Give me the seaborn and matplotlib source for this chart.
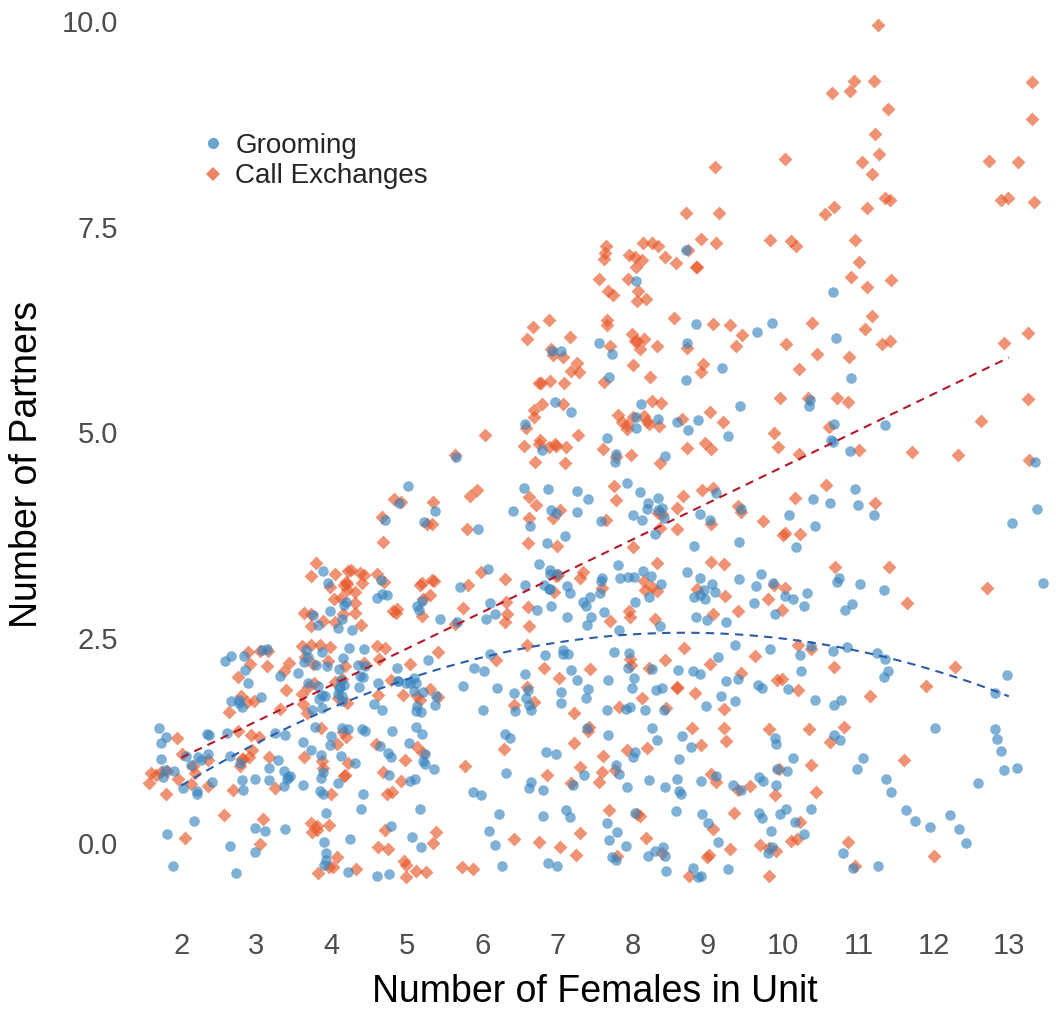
import numpy as np
import pandas as pd
import matplotlib
matplotlib.use("Agg")
import matplotlib.pyplot as plt
from matplotlib.lines import Line2D
import seaborn as sns

# ---- data: number of points per (females in unit, number of partners) ----
# index in each list = number of partners (0, 1, 2, ...)
females = [2, 3, 4, 5, 6, 7, 8, 9, 10, 11, 12, 13]
grooming_counts = [
    [3, 18],
    [6, 16, 13],
    [8, 19, 30, 10],
    [6, 14, 18, 8, 5],
    [4, 5, 8, 6, 2, 1],
    [5, 8, 15, 18, 10, 4, 2],
    [12, 10, 14, 15, 12, 8, 3, 1],
    [8, 10, 10, 12, 6, 5, 4, 1],
    [10, 8, 8, 9, 4, 2, 2],
    [3, 6, 8, 6, 4, 5, 2, 1],
    [6, 1],
    [0, 6, 2, 1, 2, 1],
]
call_counts = [
    [1, 14],
    [3, 11, 14],
    [10, 11, 18, 25],
    [10, 8, 12, 12, 7],
    [3, 2, 2, 8, 3, 2],
    [4, 6, 7, 7, 7, 15, 14],
    [6, 6, 7, 10, 7, 15, 12, 18],
    [6, 7, 7, 6, 8, 6, 8, 6, 3],
    [7, 7, 6, 4, 5, 5, 4, 3, 1],
    [2, 2, 2, 2, 2, 4, 5, 5, 8, 6, 1],
    [1, 1, 2, 1, 0, 2],
    [0, 0, 0, 1, 0, 3, 2, 0, 5, 2],
]
series_names = ["Grooming", "Call Exchanges"]
y_ticks = [0.0, 2.5, 5.0, 7.5, 10.0]


def expand(counts):
    xs, ys = [], []
    for f, row in zip(females, counts):
        for partners, n in enumerate(row):
            xs += [f] * n
            ys += [partners] * n
    return pd.DataFrame({"females": xs, "partners": ys})


groom = expand(grooming_counts)
calls = expand(call_counts)

sns.set_theme(style="white")
plt.rcParams["font.family"] = ["Liberation Sans", "DejaVu Sans"]

fig = plt.figure(figsize=(10.56, 10.11), dpi=100)
ax = fig.add_axes([0.1288, 0.0930, 0.8693, 0.8943])

blue = "#3a86c0"
orange = "#e85a2c"
blue_line = "#2a5ca8"
red_line = "#b2182b"

np.random.seed(3)
sns.regplot(data=calls, x="females", y="partners", ax=ax, ci=None, order=1,
            x_jitter=0.45, y_jitter=0.42, truncate=True, marker="D",
            scatter_kws=dict(s=50, color=orange, alpha=0.65, linewidths=0),
            line_kws=dict(color=red_line, ls=(0, (4, 3)), lw=1.5, zorder=5))
sns.regplot(data=groom, x="females", y="partners", ax=ax, ci=None, order=2,
            x_jitter=0.45, y_jitter=0.42, truncate=True, marker="o",
            scatter_kws=dict(s=58, color=blue, alpha=0.65, linewidths=0),
            line_kws=dict(color=blue_line, ls=(0, (4, 3)), lw=1.5, zorder=5))

ax.set_xlim(1.4, 13.6)
ax.set_ylim(-0.9, 10.1)
ax.set_xticks(females)
ax.set_xticklabels([str(f) for f in females])
ax.set_yticks(y_ticks)
ax.set_yticklabels([f"{t:.1f}" for t in y_ticks])
ax.tick_params(length=0, labelsize=21, labelcolor="#4d4d4d")
ax.tick_params(axis="y", pad=13)
ax.tick_params(axis="x", pad=11)
ax.set_xlabel("Number of Females in Unit", fontsize=27, color="black", labelpad=10)
ax.set_ylabel("Number of Partners", fontsize=27, color="black", labelpad=12)
sns.despine(ax=ax, left=True, bottom=True)
ax.grid(False)

handles = [
    Line2D([], [], marker="o", ls="", color=blue, alpha=0.75, markersize=8, markeredgewidth=0),
    Line2D([], [], marker="D", ls="", color=orange, alpha=0.75, markersize=7, markeredgewidth=0),
]
ax.legend(handles, series_names, loc="upper left", bbox_to_anchor=(188 / 1056, 1 - 122 / 1011),
          bbox_transform=fig.transFigure, frameon=False, fontsize=20,
          handletextpad=0.3, labelspacing=0.15, borderaxespad=0, handlelength=1.0)

fig.savefig("out.png", dpi=100)
